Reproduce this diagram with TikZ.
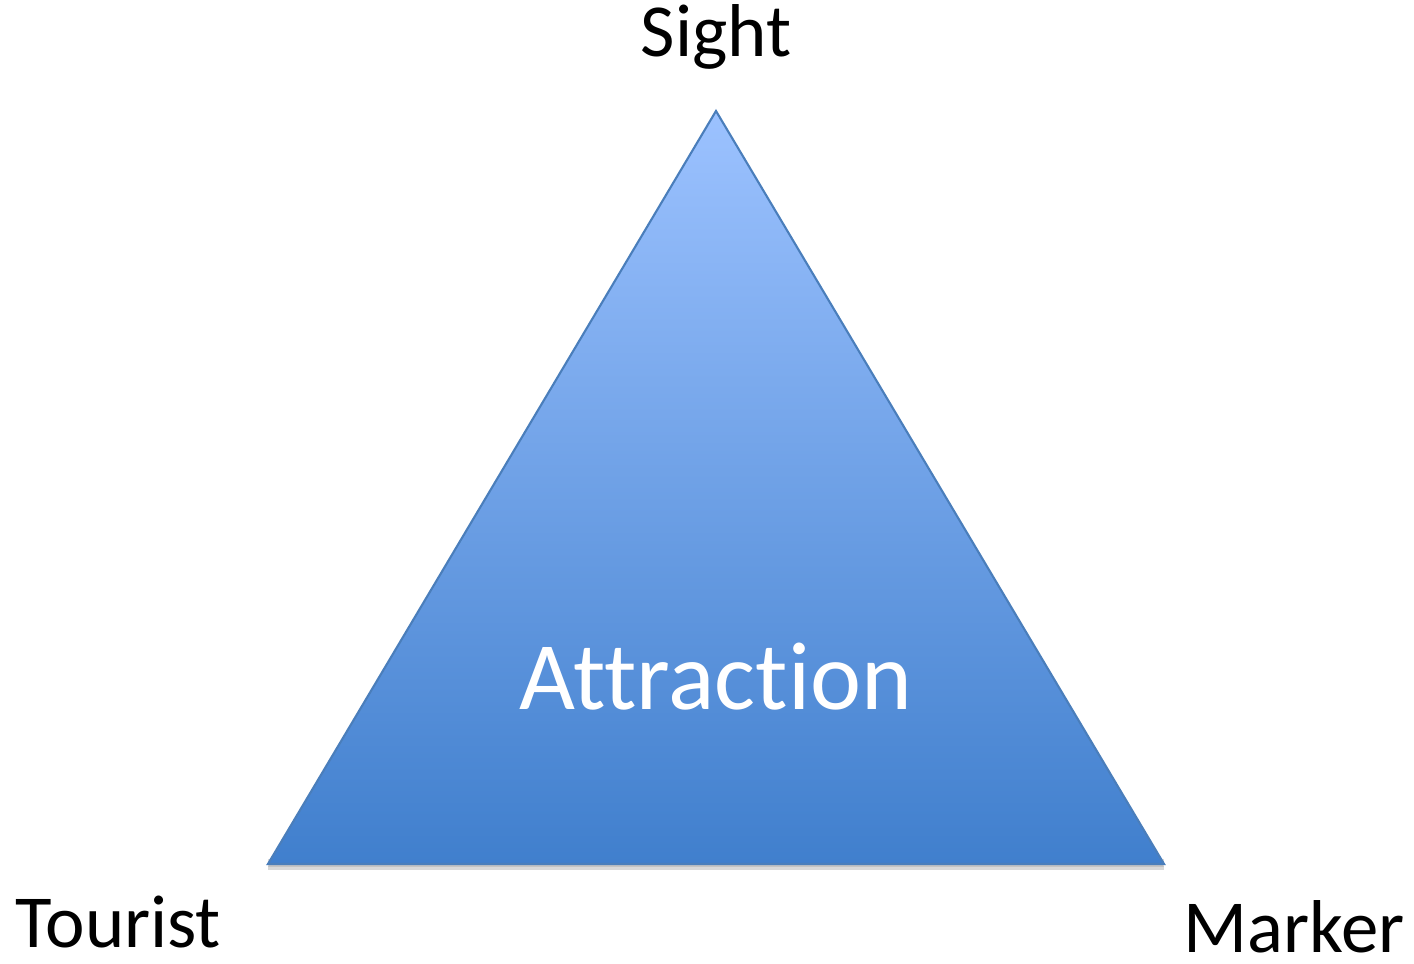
\documentclass[tikz,border=0pt]{standalone}
\usepackage{fontspec}
\setmainfont[Ligatures={NoCommon}]{Carlito}
\usetikzlibrary{shadows}

\definecolor{topblue}{HTML}{9CC2FF}
\definecolor{botblue}{HTML}{407FCD}
\definecolor{edgeblue}{HTML}{4A7EBB}

\tikzset{
    corner label/.style={font=\fontsize{21.3}{26}\selectfont, anchor=base, inner sep=0pt},
    center label/.style={font=\fontsize{27.5}{32}\selectfont, text=white, anchor=base, inner sep=0pt}
}

\begin{document}
\begin{tikzpicture}
\useasboundingbox (0,0) rectangle (14.14,9.64);

% Corners of the triangle
\coordinate (apex) at (7.16,8.53);
\coordinate (left) at (2.68,1.00);
\coordinate (right) at (11.64,1.00);

% Triangle with shadow
\fill[black, opacity=0.15] ([yshift=-0.06cm]left) -- ([yshift=-0.06cm]right) -- ([yshift=0.05cm]right) -- ([yshift=0.05cm]left) -- cycle;
\shade[top color=topblue, bottom color=botblue, draw=edgeblue, line width=0.6pt,
    drop shadow={shadow xshift=0cm, shadow yshift=-0.03cm, opacity=0.25, fill=gray}]
    (apex) -- (right) -- (left) -- cycle;

% Labels
\node[corner label] (sight) at (7.16,9.07) {Sight};
\node[corner label, anchor=base west] (tourist) at (0.15,0.16) {Tourist};
\node[corner label, anchor=base east] (marker) at (14.05,0.11) {Marker};
\node[center label] (attraction) at (7.16,2.54) {Attraction};

\end{tikzpicture}
\end{document}
